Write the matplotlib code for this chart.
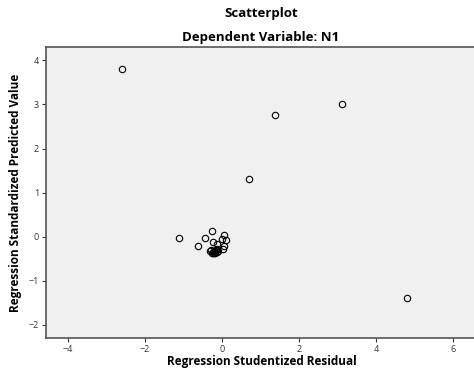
import matplotlib
matplotlib.use('Agg')
import matplotlib.pyplot as plt

# studentized residuals (x) vs standardized predicted values (y)
resid = [-2.6, 1.38, 3.12, 0.70, 4.80, -1.12,
         -0.62, -0.43, -0.25, 0.06, -0.01, 0.10, -0.24, -0.14, 0.05, 0.03,
         -0.30, -0.26, -0.22, -0.18, -0.14, -0.11, -0.28, -0.20, -0.16, -0.24, -0.12, -0.19]
pred = [3.80, 2.75, 3.00, 1.30, -1.40, -0.02,
        -0.21, -0.04, 0.12, 0.03, -0.05, -0.08, -0.12, -0.16, -0.22, -0.27,
        -0.33, -0.36, -0.38, -0.37, -0.35, -0.33, -0.30, -0.32, -0.30, -0.38, -0.29, -0.34]

xticks = [-4, -2, 0, 2, 4, 6]
yticks = [-2, -1, 0, 1, 2, 3, 4]

plt.rcParams['font.family'] = ['Open Sans', 'DejaVu Sans']

fig = plt.figure(figsize=(4.74, 3.74), dpi=100)
ax = fig.add_axes([0.097, 0.096, 0.91, 0.778])
ax.set_facecolor('#f0f0f0')

ax.plot(resid, pred, 'o', markersize=4.6, markerfacecolor='none',
        markeredgecolor='black', markeredgewidth=0.8)

ax.set_xlim(-4.57, 6.63)
ax.set_ylim(-2.3, 4.3)
ax.set_xticks(xticks)
ax.set_yticks(yticks)
ax.tick_params(labelsize=6.5, colors='#333333', length=3, width=0.8, pad=2)

for side in ['left', 'bottom', 'top']:
    ax.spines[side].set_color('#555555')
    ax.spines[side].set_linewidth(1.2)
ax.spines['right'].set_visible(False)

ax.set_xlabel('Regression Studentized Residual', fontsize=8.5, fontweight='bold', labelpad=1)
ax.set_ylabel('Regression Standardized Predicted Value', fontsize=8.5, fontweight='bold', labelpad=5)

fig.text(0.55, 0.965, 'Scatterplot', ha='center', va='center', fontsize=9.5, fontweight='bold')
fig.text(0.55, 0.9, 'Dependent Variable: N1', ha='center', va='center', fontsize=9.5, fontweight='bold')

plt.savefig('out.png', dpi=100)
plt.close()
